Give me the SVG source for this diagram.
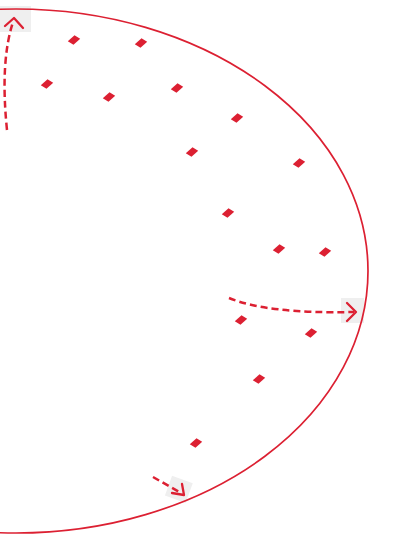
<svg xmlns="http://www.w3.org/2000/svg" xmlns:xlink="http://www.w3.org/1999/xlink" width="416" height="539" viewBox="0 0 416 539">
<style>
.outline{fill:none;stroke:#dc2032;stroke-width:1.7}
.dot{fill:#dc2032}
.flow{fill:none;stroke:#dc2032;stroke-width:2.5;stroke-dasharray:7 4}
.head{fill:none;stroke:#dc2032;stroke-width:2.3;stroke-linecap:round;stroke-linejoin:round}
.hl{fill:#efefef}
</style>
<defs>
<polygon id="mk" points="-6.2,1.3 0.5,-4.7 6.2,-1.3 -0.5,4.7"/>
</defs>
<rect width="416" height="539" fill="#ffffff"/>
<g id="highlights">
<rect class="hl" x="0" y="6" width="31" height="26"/>
<rect class="hl" x="341" y="298" width="23" height="25"/>
<rect class="hl" x="168" y="479" width="22" height="21" transform="rotate(20 179 489)"/>
</g>
<g id="region">
<ellipse class="outline" cx="16" cy="271" rx="352" ry="262"/>
</g>
<g id="n1"><use href="#mk" class="dot" x="74" y="40"/></g>
<g id="n2"><use href="#mk" class="dot" x="141" y="43"/></g>
<g id="n3"><use href="#mk" class="dot" x="47" y="84"/></g>
<g id="n4"><use href="#mk" class="dot" x="109" y="97"/></g>
<g id="n5"><use href="#mk" class="dot" x="177" y="88"/></g>
<g id="n6"><use href="#mk" class="dot" x="237" y="118"/></g>
<g id="n7"><use href="#mk" class="dot" x="192" y="152"/></g>
<g id="n8"><use href="#mk" class="dot" x="299" y="163"/></g>
<g id="n9"><use href="#mk" class="dot" x="228" y="213"/></g>
<g id="n10"><use href="#mk" class="dot" x="279" y="249"/></g>
<g id="n11"><use href="#mk" class="dot" x="325" y="252"/></g>
<g id="n12"><use href="#mk" class="dot" x="241" y="320"/></g>
<g id="n13"><use href="#mk" class="dot" x="311" y="333"/></g>
<g id="n14"><use href="#mk" class="dot" x="259" y="379"/></g>
<g id="n15"><use href="#mk" class="dot" x="196" y="443"/></g>
<g id="connectors">
<path class="flow" d="M7,130 Q0,62 13,22"/>
<polyline class="head" points="5,26 14,18 23,28"/>
<path class="flow" d="M229,298 Q268,314 354,312"/>
<polyline class="head" points="347,303 356,312 347,321"/>
<path class="flow" d="M153,477 L181,493"/>
<polyline class="head" points="182,484 184,495 172,493"/>
</g>
</svg>
